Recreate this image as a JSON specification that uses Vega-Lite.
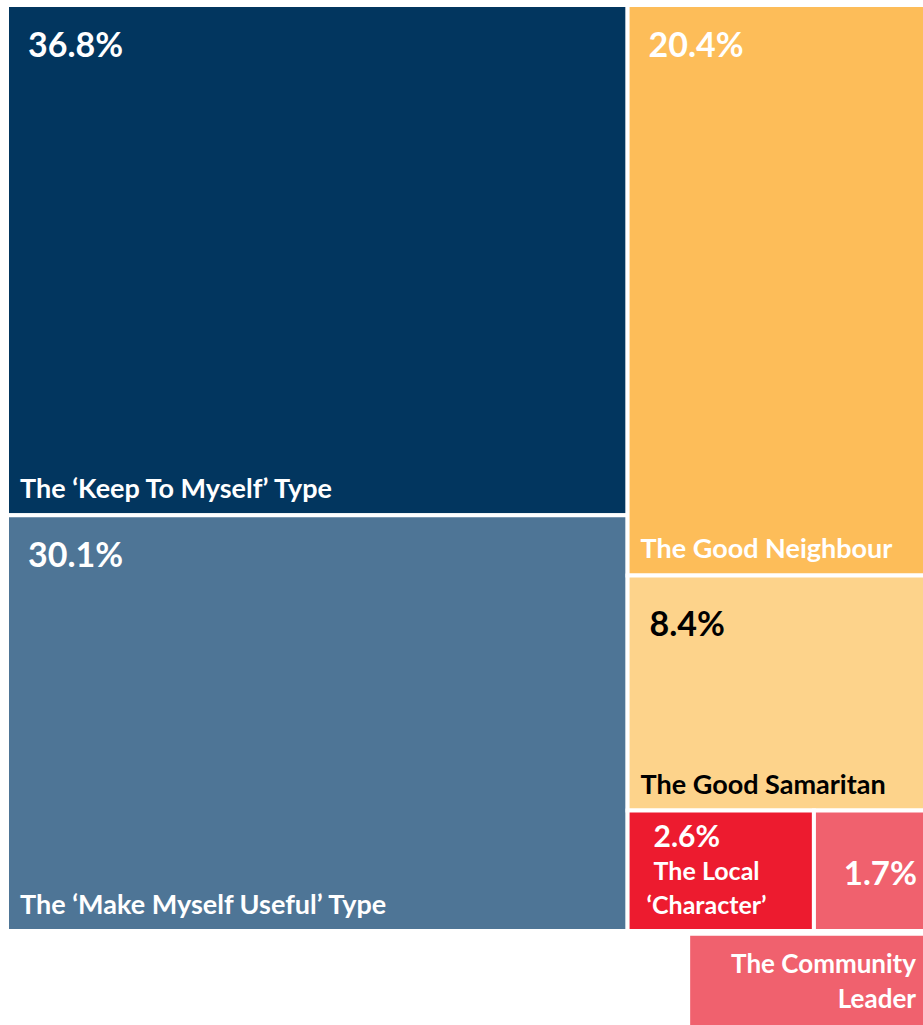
{
  "$schema": "https://vega.github.io/schema/vega-lite/v6.json",
  "width": 918,
  "height": 1022,
  "padding": {"left": 7, "top": 5, "right": 0, "bottom": 0},
  "autosize": {"type": "none"},
  "background": "white",
  "config": {"view": {"stroke": null}, "text": {"font": "Lato", "fontWeight": "bold"}},
  "datasets": {
    "tiles": [
      {"name": "The ‘Keep To Myself’ Type", "share": 0.368, "x0": 0, "x1": 67.6, "y0": 0, "y1": 55.1},
      {"name": "The ‘Make Myself Useful’ Type", "share": 0.301, "x0": 0, "x1": 67.6, "y0": 55.1, "y1": 100},
      {"name": "The Good Neighbour", "share": 0.204, "x0": 67.6, "x1": 100, "y0": 0, "y1": 61.6},
      {"name": "The Good Samaritan", "share": 0.084, "x0": 67.6, "x1": 100, "y0": 61.6, "y1": 87.0},
      {"name": "The Local\n‘Character’", "share": 0.026, "x0": 67.6, "x1": 87.9, "y0": 87.0, "y1": 100},
      {"name": "The Community\nLeader", "share": 0.017, "x0": 87.9, "x1": 100, "y0": 87.0, "y1": 100}
    ],
    "labelbox": [
      {"name": "The Community\nLeader", "x0": 74.2, "x1": 100, "y0": 100.3, "y1": 110.4}
    ]
  },
  "data": {"name": "tiles"},
  "encoding": {
    "x": {"field": "x0", "type": "quantitative", "scale": {"domain": [0, 100], "nice": false, "zero": false}, "axis": null},
    "y": {"field": "y0", "type": "quantitative", "scale": {"domain": [0, 110.37], "nice": false, "zero": false, "reverse": true}, "axis": null}
  },
  "layer": [
    {
      "mark": {"type": "rect", "stroke": "white", "strokeWidth": 4},
      "encoding": {
        "x2": {"field": "x1"},
        "y2": {"field": "y1"},
        "color": {
          "field": "name", "type": "nominal", "legend": null,
          "scale": {
            "domain": ["The ‘Keep To Myself’ Type", "The ‘Make Myself Useful’ Type", "The Good Neighbour", "The Good Samaritan", "The Local\n‘Character’", "The Community\nLeader"],
            "range": ["#02365F", "#4E7596", "#FDBD59", "#FDD38B", "#ED1B2F", "#F0616E"]
          }
        }
      }
    },
    {
      "data": {"name": "labelbox"},
      "mark": {"type": "rect", "stroke": "white", "strokeWidth": 4, "fill": "#F0616E"},
      "encoding": {"x2": {"field": "x1"}, "y2": {"field": "y1"}}
    },
    {
      "transform": [{"filter": "datum.share >= 0.2"}],
      "mark": {"type": "text", "align": "left", "baseline": "middle", "dx": 21, "dy": 42, "fontSize": 34, "color": "white"},
      "encoding": {"text": {"field": "share", "type": "quantitative", "format": ".1%"}}
    },
    {
      "transform": [{"filter": "datum.share == 0.084"}],
      "mark": {"type": "text", "align": "left", "baseline": "middle", "dx": 22, "dy": 50.5, "fontSize": 34, "color": "black"},
      "encoding": {"text": {"field": "share", "type": "quantitative", "format": ".1%"}}
    },
    {
      "transform": [{"filter": "datum.share == 0.026"}],
      "mark": {"type": "text", "align": "left", "baseline": "middle", "dx": 26, "dy": 27.5, "fontSize": 30, "color": "white"},
      "encoding": {"text": {"field": "share", "type": "quantitative", "format": ".1%"}}
    },
    {
      "transform": [{"filter": "datum.share == 0.017"}],
      "mark": {"type": "text", "align": "right", "baseline": "middle", "dx": -8, "dy": 64.5, "fontSize": 33, "color": "white"},
      "encoding": {"x": {"field": "x1", "type": "quantitative"}, "text": {"field": "share", "type": "quantitative", "format": ".1%"}}
    },
    {
      "transform": [{"filter": "datum.share >= 0.08"}],
      "mark": {"type": "text", "align": "left", "baseline": "alphabetic", "dx": 13, "dy": -17, "fontSize": 27},
      "encoding": {
        "y": {"field": "y1", "type": "quantitative"},
        "text": {"field": "name"},
        "color": {"condition": {"test": "datum.name === 'The Good Samaritan'", "value": "black"}, "value": "white"}
      }
    },
    {
      "transform": [{"filter": "datum.share == 0.026"}],
      "mark": {"type": "text", "align": "center", "baseline": "alphabetic", "dx": 79, "dy": 69, "fontSize": 25, "lineBreak": "\n", "lineHeight": 34, "color": "white"},
      "encoding": {"text": {"field": "name"}}
    },
    {
      "data": {"name": "labelbox"},
      "mark": {"type": "text", "align": "right", "baseline": "alphabetic", "dx": -9, "dy": 39, "fontSize": 26, "lineBreak": "\n", "lineHeight": 35, "color": "white"},
      "encoding": {"x": {"field": "x1", "type": "quantitative"}, "text": {"field": "name"}}
    }
  ]
}
